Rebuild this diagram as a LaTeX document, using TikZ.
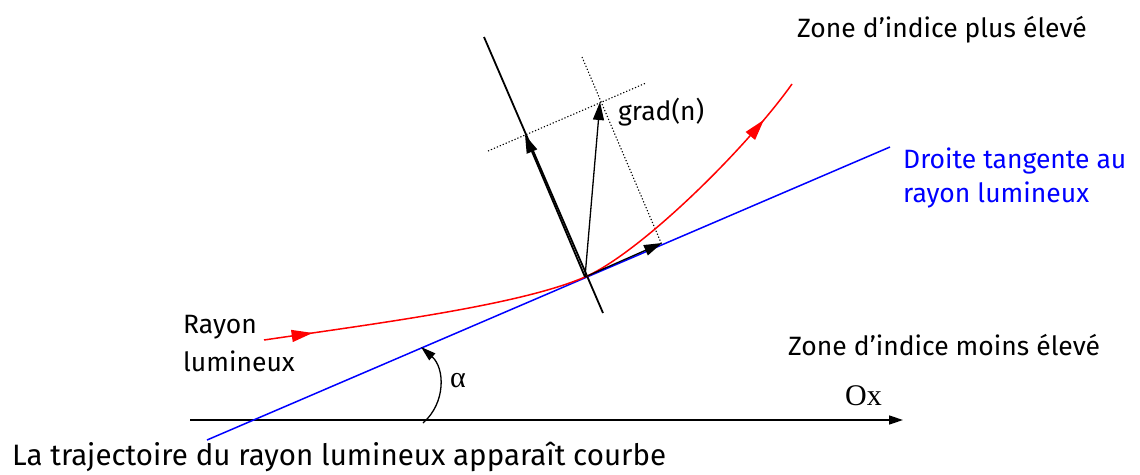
\documentclass[tikz,border=0pt]{standalone}
\usepackage{fontspec}
\setmainfont{Fira Sans}
\newfontfamily\timesf{Liberation Serif}
\usetikzlibrary{arrows.meta,decorations.markings}
\definecolor{rayred}{RGB}{255,0,0}
\definecolor{tanblue}{RGB}{0,0,255}
\tikzset{
  lbl/.style={inner sep=0pt, anchor=base west, font=\fontsize{26.5}{30}\selectfont},
  bigtip/.style={-{Triangle[length=18pt,width=11pt]}},
  blackline/.style={line width=1.8pt, black},
  thinarrow/.style={line width=1.3pt, black},
  dotline/.style={line width=1.1pt, dash pattern=on 1.2pt off 2pt, black},
  ray/.style={line width=1.5pt, rayred},
  tangent/.style={line width=1.5pt, tanblue},
  midarrow/.style={postaction={decorate}, decoration={markings,
     mark=at position #1 with {\arrow[rayred]{Triangle[length=21pt,width=12pt]}}}}
}
\begin{document}
\begin{tikzpicture}[x=1pt,y=-1pt]
\useasboundingbox (0,0) rectangle (1140,474);
% key points
\coordinate (P) at (585,277);
\coordinate (nTop) at (484,37);
\coordinate (nBot) at (603,313);
\coordinate (nTip) at (525,135);
\coordinate (gTip) at (600,102);
\coordinate (tTip) at (662,243);
\coordinate (d1a) at (488,151);
\coordinate (d1b) at (646,83);
\coordinate (d2a) at (582,57);
\coordinate (d2b) at (662,245);
\coordinate (bA) at (207,440);
\coordinate (bB) at (890,147);
\coordinate (ox0) at (190,420);
\coordinate (ox1) at (903,420);
\coordinate (aBot) at (423,423);
\coordinate (aTop) at (421,347);
\coordinate (rS) at (264,340);
\coordinate (rE) at (792,84);

% axis Ox
\draw[line width=1.5pt, -{Triangle[length=14pt,width=9pt]}] (ox0) -- (ox1);
% tangent line
\draw[tangent] (bA) -- (bB);
% normal line
\draw[blackline] (nTop) -- (nBot);
% dotted construction lines
\draw[dotline] (d1a) -- (d1b);
\draw[dotline] (d2a) -- (d2b);
% red ray
\draw[ray, midarrow=0.15] (rS) .. controls (380,323) and (520,305) .. (P);
\draw[ray, midarrow=0.84] (P) .. controls (640,253) and (745,150) .. (rE);
% vectors
\draw[blackline, bigtip] (P) -- (nTip);
\draw[thinarrow, bigtip] (P) -- (gTip);
\draw[thinarrow, bigtip] (P) -- (tTip);
% angle alpha
\draw[line width=1.3pt, -{Triangle[length=15pt,width=9pt]}] (aBot) .. controls (446,403) and (445,368) .. (aTop);

% labels
\node[lbl] (zplus) at (797,37) {Zone d'indice plus élevé};
\node[lbl, text=tanblue] (droite) at (903,168) {Droite tangente au};
\node[lbl, text=tanblue] (rayonl) at (903,202) {rayon lumineux};
\node[lbl] (grad) at (618,120) {grad(n)};
\node[lbl] (rayon1) at (183,333) {Rayon};
\node[lbl] (rayon2) at (183,371) {lumineux};
\node[lbl] (zmoins) at (788,355) {Zone d'indice moins élevé};
\node[lbl, font=\timesf\fontsize{30}{34}\selectfont] (ox) at (845,405) {Ox};
\node[lbl, font=\timesf\fontsize{30}{34}\selectfont] (alpha) at (450,387) {α};
\node[lbl, font=\fontsize{29.5}{34}\selectfont] (bottom) at (12,465) {La trajectoire du rayon lumineux apparaît courbe};
\end{tikzpicture}
\end{document}
